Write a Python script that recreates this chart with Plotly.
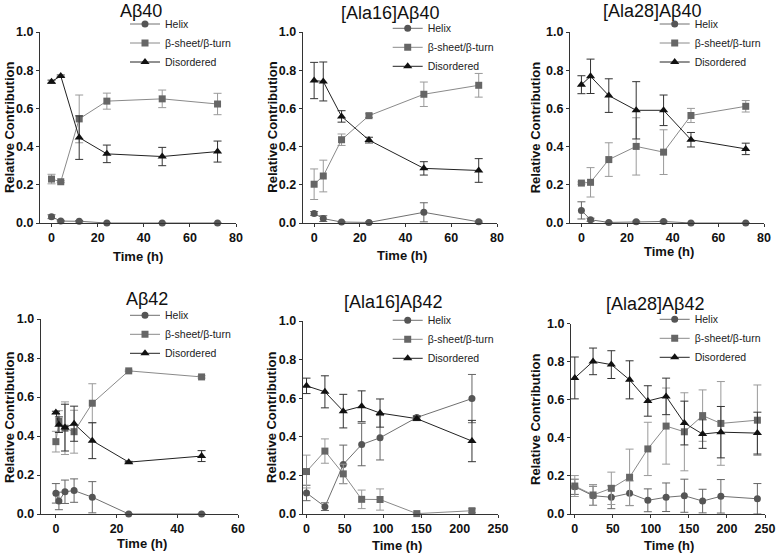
import plotly.graph_objects as go

# panel titles
titles = ["Aβ40", "[Ala16]Aβ40", "[Ala28]Aβ40", "Aβ42", "[Ala16]Aβ42", "[Ala28]Aβ42"]
series_names = ["Helix", "β-sheet/β-turn", "Disordered"]

# Aβ40
t1 = [0, 4, 12, 24, 48, 72]
helix1 = [0.033, 0.010, 0.009, 0.0, 0.0, 0.0]
helix1_err = [0.010, 0.004, 0.004, 0.0, 0.0, 0.0]
beta1 = [0.230, 0.216, 0.545, 0.638, 0.650, 0.623]
beta1_err = [0.025, 0.005, 0.125, 0.042, 0.046, 0.056]
dis1 = [0.740, 0.770, 0.447, 0.362, 0.348, 0.374]
dis1_err = [0.008, 0.005, 0.114, 0.046, 0.048, 0.055]

# [Ala16]Aβ40
t2 = [0, 4, 12, 24, 48, 72]
helix2 = [0.050, 0.023, 0.005, 0.003, 0.056, 0.006]
helix2_err = [0.010, 0.015, 0.003, 0.003, 0.050, 0.004]
beta2 = [0.203, 0.246, 0.436, 0.562, 0.674, 0.721]
beta2_err = [0.080, 0.083, 0.030, 0.010, 0.064, 0.062]
dis2 = [0.746, 0.741, 0.558, 0.434, 0.286, 0.275]
dis2_err = [0.095, 0.102, 0.030, 0.015, 0.035, 0.062]

# [Ala28]Aβ40
t3 = [0, 4, 12, 24, 36, 48, 72]
helix3 = [0.066, 0.017, 0.003, 0.007, 0.008, 0.0, 0.0]
helix3_err = [0.045, 0.008, 0.002, 0.003, 0.003, 0.0, 0.0]
beta3 = [0.209, 0.213, 0.332, 0.401, 0.371, 0.563, 0.611]
beta3_err = [0.006, 0.077, 0.088, 0.150, 0.117, 0.037, 0.030]
dis3 = [0.724, 0.768, 0.667, 0.590, 0.590, 0.436, 0.388]
dis3_err = [0.047, 0.090, 0.088, 0.150, 0.080, 0.038, 0.030]

# Aβ42
t4 = [0, 1, 3, 6, 12, 24, 48]
helix4 = [0.106, 0.067, 0.114, 0.120, 0.086, 0.0, 0.0]
helix4_err = [0.050, 0.045, 0.060, 0.060, 0.080, 0.0, 0.0]
beta4 = [0.371, 0.475, 0.440, 0.422, 0.568, 0.734, 0.703]
beta4_err = [0.053, 0.055, 0.135, 0.110, 0.100, 0.004, 0.006]
dis4 = [0.521, 0.458, 0.443, 0.463, 0.376, 0.266, 0.297]
dis4_err = [0.006, 0.040, 0.120, 0.090, 0.092, 0.004, 0.028]

# [Ala16]Aβ42
t5 = [0, 24, 48, 72, 96, 144, 216]
helix5 = [0.109, 0.038, 0.257, 0.360, 0.395, 0.500, 0.598]
helix5_err = [0.040, 0.020, 0.100, 0.110, 0.115, 0.010, 0.125]
beta5 = [0.220, 0.326, 0.208, 0.076, 0.075, 0.002, 0.017]
beta5_err = [0.085, 0.063, 0.050, 0.048, 0.055, 0.002, 0.010]
dis5 = [0.664, 0.633, 0.533, 0.558, 0.523, 0.494, 0.378]
dis5_err = [0.040, 0.083, 0.087, 0.080, 0.073, 0.010, 0.107]

# [Ala28]Aβ42
t6 = [0, 24, 48, 72, 96, 120, 144, 168, 192, 240]
helix6 = [0.143, 0.096, 0.088, 0.109, 0.072, 0.088, 0.096, 0.068, 0.093, 0.080]
helix6_err = [0.040, 0.050, 0.060, 0.065, 0.060, 0.075, 0.087, 0.062, 0.088, 0.080]
beta6 = [0.147, 0.100, 0.135, 0.193, 0.342, 0.462, 0.432, 0.517, 0.476, 0.493]
beta6_err = [0.055, 0.055, 0.085, 0.148, 0.140, 0.200, 0.205, 0.135, 0.220, 0.185]
dis6 = [0.715, 0.802, 0.785, 0.705, 0.594, 0.618, 0.478, 0.420, 0.430, 0.425]
dis6_err = [0.110, 0.070, 0.073, 0.100, 0.080, 0.096, 0.115, 0.075, 0.135, 0.110]

x_max = [80, 80, 80, 60, 250, 250]
x_ticks = [[0, 20, 40, 60, 80]] * 3 + [[0, 20, 40, 60], [0, 50, 100, 150, 200, 250], [0, 50, 100, 150, 200, 250]]

panels = [
    (t1, [(helix1, helix1_err), (beta1, beta1_err), (dis1, dis1_err)]),
    (t2, [(helix2, helix2_err), (beta2, beta2_err), (dis2, dis2_err)]),
    (t3, [(helix3, helix3_err), (beta3, beta3_err), (dis3, dis3_err)]),
    (t4, [(helix4, helix4_err), (beta4, beta4_err), (dis4, dis4_err)]),
    (t5, [(helix5, helix5_err), (beta5, beta5_err), (dis5, dis5_err)]),
    (t6, [(helix6, helix6_err), (beta6, beta6_err), (dis6, dis6_err)]),
]

W, H = 777, 554
# pixel boxes of each plot area: left, right, top(y=1), bottom(y=0)
boxes = [(40, 236, 32, 223), (302.7, 497, 32, 223), (570, 764, 32, 223),
         (40.7, 238, 319, 514), (302.7, 498, 321, 514), (571, 765, 323.7, 514)]
title_pos = [(140.7, 11), (390, 12.7), (652, 11), (146.7, 298.7), (393.3, 302), (655.3, 303.7)]
ytitle_pos = [(9, 127), (271.7, 127), (535.3, 127), (9, 417), (271, 417), (535.3, 418.7)]
xtitle_pos = [(138, 256), (401.7, 255.3), (668.7, 251), (141.7, 543.7), (396.7, 545.3), (668.7, 545.3)]
legend_pos = [(170, 25), (432.7, 29.3), (699.7, 25), (170, 316.3), (432.7, 321.3), (699.7, 320.3)]

styles = [
    dict(symbol="circle", size=7, mcolor="#555555", lcolor="#707070", ecolor="#666666"),
    dict(symbol="square", size=7, mcolor="#666666", lcolor="#8a8a8a", ecolor="#9a9a9a"),
    dict(symbol="triangle-up", size=8, mcolor="#111111", lcolor="#222222", ecolor="#333333"),
]

FONT = "Liberation Sans, Arial, sans-serif"
fig = go.Figure()
annotations = []

for i, (t, series) in enumerate(panels):
    n = "" if i == 0 else str(i + 1)
    leg = "legend" + n
    for (vals, err), name, st in zip(series, series_names, styles):
        fig.add_trace(go.Scatter(
            x=t, y=vals, name=name, mode="lines+markers",
            xaxis="x" + n, yaxis="y" + n, legend=leg, cliponaxis=False,
            line=dict(color=st["lcolor"], width=1),
            marker=dict(symbol=st["symbol"], size=st["size"], color=st["mcolor"]),
            error_y=dict(type="data", array=err, visible=True, color=st["ecolor"], thickness=1, width=4),
        ))

    l, r, top, bot = boxes[i]
    fig.layout["xaxis" + n] = dict(
        domain=[l / W, r / W], anchor="y" + n, range=[-5, x_max[i]],
        tickvals=x_ticks[i], ticks="outside", ticklen=3, showline=True,
        linecolor="#333333", tickcolor="#333333", showgrid=False, zeroline=False,
        ticklabeloverflow="allow",
        tickfont=dict(family=FONT, size=12.5, color="#111111", weight="bold"),
    )
    fig.layout["yaxis" + n] = dict(
        domain=[1 - bot / H, 1 - top / H], anchor="x" + n, range=[0, 1],
        tickvals=[0, 0.2, 0.4, 0.6, 0.8, 1.0], tickformat=".1f", ticks="outside",
        ticklen=3, showline=True, linecolor="#333333", tickcolor="#333333",
        showgrid=False, zeroline=False, ticklabeloverflow="allow",
        tickfont=dict(family=FONT, size=12.5, color="#111111", weight="bold"),
    )
    lx, ly = legend_pos[i]
    fig.layout[leg] = dict(
        x=(lx - 45) / W, y=1 - (ly - 15.5) / H, xanchor="left", yanchor="top",
        bgcolor="rgba(0,0,0,0)", font=dict(family=FONT, size=10.5, color="#222222"),
    )

    tx, ty = title_pos[i]
    annotations.append(dict(text=titles[i], x=tx / W, y=1 - ty / H, xref="paper", yref="paper",
                            showarrow=False, xanchor="center", yanchor="middle",
                            font=dict(family=FONT, size=18, color="#111111")))
    yx, yy = ytitle_pos[i]
    annotations.append(dict(text="Relative Contribution", x=yx / W, y=1 - yy / H, xref="paper",
                            yref="paper", showarrow=False, textangle=-90, xanchor="center",
                            yanchor="middle",
                            font=dict(family=FONT, size=13, color="#111111", weight="bold")))
    xx, xy = xtitle_pos[i]
    annotations.append(dict(text="Time (h)", x=xx / W, y=1 - xy / H, xref="paper", yref="paper",
                            showarrow=False, xanchor="center", yanchor="middle",
                            font=dict(family=FONT, size=13, color="#111111", weight="bold")))

fig.update_layout(
    width=W, height=H, margin=dict(l=0, r=0, t=0, b=0, autoexpand=False),
    paper_bgcolor="white", plot_bgcolor="white",
    annotations=annotations, showlegend=True,
)

# drop the page's default body margin so the figure sits at the window's corner
fig.write_html("out.html", config={"displayModeBar": False},
               post_script="document.body.style.margin='0px';")
